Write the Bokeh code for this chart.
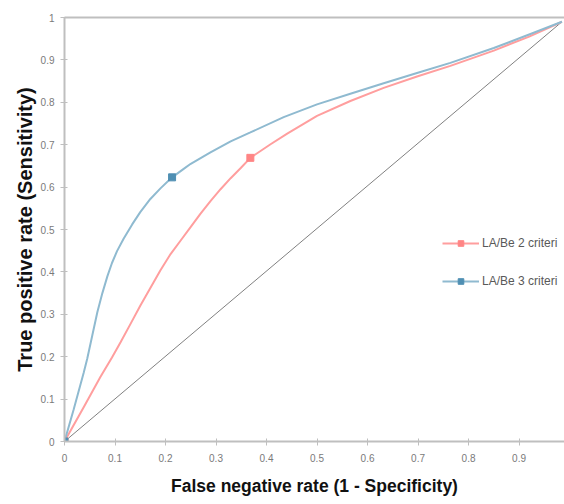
from bokeh.plotting import figure
from bokeh.models import Range1d, LinearAxis, FixedTicker, Legend, LegendItem
from bokeh.embed import file_html
from bokeh.resources import INLINE

# ---- data ----
crit2_x = [0, 0.038, 0.071, 0.094, 0.111, 0.131, 0.150, 0.170, 0.190, 0.210, 0.230,
           0.250, 0.269, 0.289, 0.309, 0.329, 0.349, 0.368, 0.408, 0.441, 0.50,
           0.566, 0.632, 0.698, 0.764, 0.85, 0.92, 0.985]
crit2_y = [0, 0.081, 0.152, 0.198, 0.234, 0.278, 0.320, 0.362, 0.404, 0.442, 0.474,
           0.506, 0.537, 0.567, 0.595, 0.621, 0.645, 0.669, 0.701, 0.726, 0.768,
           0.803, 0.834, 0.861, 0.886, 0.922, 0.955, 0.99]

crit3_x = [0, 0.018, 0.038, 0.045, 0.055, 0.065, 0.075, 0.085, 0.094, 0.104, 0.117,
           0.134, 0.150, 0.170, 0.190, 0.213, 0.236, 0.250, 0.289, 0.329, 0.368,
           0.434, 0.50, 0.566, 0.632, 0.698, 0.764, 0.85, 0.92, 0.985]
crit3_y = [0, 0.075, 0.162, 0.195, 0.250, 0.305, 0.350, 0.390, 0.421, 0.449, 0.478,
           0.512, 0.541, 0.572, 0.597, 0.623, 0.643, 0.655, 0.682, 0.708, 0.729,
           0.765, 0.795, 0.820, 0.845, 0.869, 0.893, 0.928, 0.960, 0.99]

crit2_mark_x = [0, 0.368]
crit2_mark_y = [0, 0.669]
crit3_mark_x = [0, 0.213]
crit3_mark_y = [0, 0.623]

diag_x = [0, 0.985]
diag_y = [0, 0.99]

series_names = ["LA/Be 2 criteri", "LA/Be 3 criteri"]

x_ticks = [0, 0.1, 0.2, 0.3, 0.4, 0.5, 0.6, 0.7, 0.8, 0.9]
x_tick_labels = ["0", "0.1", "0.2", "0.3", "0.4", "0.5", "0.6", "0.7", "0.8", "0.9"]
y_ticks = [0, 0.1, 0.2, 0.3, 0.4, 0.5, 0.6, 0.7, 0.8, 0.9, 1]
y_tick_labels = ["0", "0.1", "0.2", "0.3", "0.4", "0.5", "0.6", "0.7", "0.8", "0.9", "1"]

x_title = "False negative rate (1 - Specificity)"
y_title = "True positive rate (Sensitivity)"

# ---- styles ----
RED = "#FF9E9E"
RED_MARK = "#FF8585"
BLUE = "#8FBAD0"
BLUE_MARK = "#4F8FB3"
AXIS = "#BFBFBF"
TICK_TXT = "#7A7A7A"
FONT = "Liberation Sans"

p = figure(width=564, height=504, output_backend="svg", toolbar_location=None,
           x_range=Range1d(0, 0.99), y_range=Range1d(0, 1),
           min_border_left=64, min_border_right=0, min_border_top=17, min_border_bottom=63,
           background_fill_color="white", border_fill_color="white")
p.outline_line_color = None
p.grid.visible = False

# diagonal
p.line(diag_x, diag_y, line_color="#808080", line_width=1)

r2 = p.line(crit2_x, crit2_y, line_color=RED, line_width=2)
r3 = p.line(crit3_x, crit3_y, line_color=BLUE, line_width=2)
m2 = p.scatter(crit2_mark_x, crit2_mark_y, marker="square", size=7,
               fill_color=RED_MARK, line_color=RED_MARK)
m3 = p.scatter(crit3_mark_x, crit3_mark_y, marker="square", size=7,
               fill_color=BLUE_MARK, line_color=BLUE_MARK)

# axes
xa = p.xaxis[0]
xa.ticker = FixedTicker(ticks=x_ticks)
xa.major_label_overrides = {t: l for t, l in zip(x_ticks, x_tick_labels)}
ya = p.yaxis[0]
ya.ticker = FixedTicker(ticks=y_ticks)
ya.major_label_overrides = {t: l for t, l in zip(y_ticks, y_tick_labels)}

for ax in (xa, ya):
    ax.axis_line_color = AXIS
    ax.axis_line_width = 2
    ax.major_tick_line_color = AXIS
    ax.major_tick_line_width = 1
    ax.major_tick_in = 3
    ax.major_tick_out = 4
    ax.minor_tick_line_color = None
    ax.major_label_text_color = TICK_TXT
    ax.major_label_text_font = FONT
    ax.major_label_text_font_size = "10px"
    ax.axis_label_text_font = FONT
    ax.axis_label_text_font_style = "bold"
    ax.axis_label_text_color = "#111111"

xa.axis_label = x_title
xa.axis_label_text_font_size = "17.5px"
xa.major_label_standoff = 8
xa.axis_label_standoff = 11

ya.axis_label = y_title
ya.axis_label_text_font_size = "20px"
ya.major_label_standoff = 6
ya.axis_label_standoff = 2

# top border line at y = 1
top = LinearAxis(ticker=FixedTicker(ticks=[]), major_label_text_font_size="0px",
                 axis_line_color=AXIS, axis_line_width=2,
                 major_tick_line_color=None, minor_tick_line_color=None)
p.add_layout(top, "above")

legend = Legend(items=[LegendItem(label=series_names[0], renderers=[r2, m2]),
                       LegendItem(label=series_names[1], renderers=[r3, m3])],
                location=(378, 153))
legend.glyph_width = 37
legend.glyph_height = 14
legend.label_height = 14
legend.label_standoff = 3
legend.spacing = 24
legend.padding = 0
legend.margin = 0
legend.border_line_color = None
legend.background_fill_alpha = 0
legend.label_text_font = FONT
legend.label_text_font_size = "12px"
legend.label_text_color = "#595959"
p.add_layout(legend, "center")

open("out.html", "w").write(file_html(p, INLINE))
